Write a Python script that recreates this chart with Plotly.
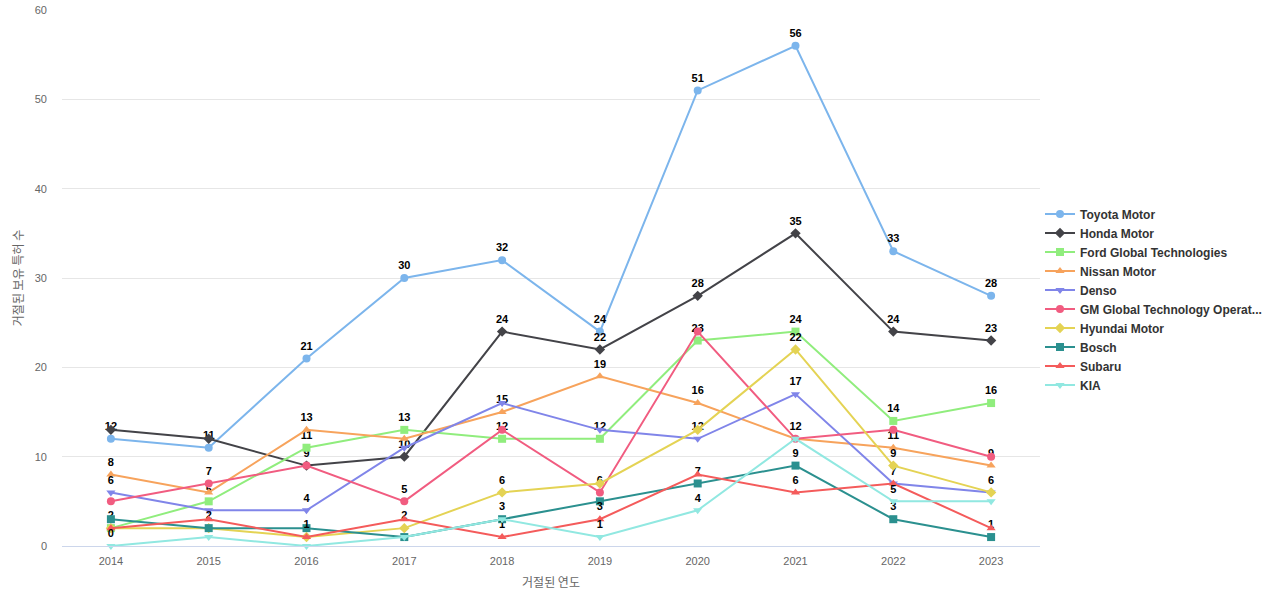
import plotly.graph_objects as go

years = ["2014", "2015", "2016", "2017", "2018", "2019", "2020", "2021", "2022", "2023"]

toyota = [12, 11, 21, 30, 32, 24, 51, 56, 33, 28]
honda = [13, 12, 9, 10, 24, 22, 28, 35, 24, 23]
ford = [2, 5, 11, 13, 12, 12, 23, 24, 14, 16]
nissan = [8, 6, 13, 12, 15, 19, 16, 12, 11, 9]
denso = [6, 4, 4, 11, 16, 13, 12, 17, 7, 6]
gm = [5, 7, 9, 5, 13, 6, 24, 12, 13, 10]
hyundai = [2, 2, 1, 2, 6, 7, 13, 22, 9, 6]
bosch = [3, 2, 2, 1, 3, 5, 7, 9, 3, 1]
subaru = [2, 3, 1, 3, 1, 3, 8, 6, 7, 2]
kia = [0, 1, 0, 1, 3, 1, 4, 12, 5, 5]

# which data labels are visible in the reference (overlapping ones are hidden there)
toyota_lbl = [1, 1, 1, 1, 1, 1, 1, 1, 1, 1]
honda_lbl = [0, 0, 1, 1, 1, 1, 1, 1, 1, 1]
ford_lbl = [1, 1, 1, 1, 1, 1, 1, 1, 1, 1]
nissan_lbl = [1, 0, 1, 0, 1, 1, 1, 1, 1, 1]
denso_lbl = [1, 0, 1, 0, 0, 0, 1, 1, 1, 1]
gm_lbl = [0, 1, 0, 1, 0, 1, 0, 0, 0, 0]
hyundai_lbl = [0, 0, 0, 1, 1, 0, 0, 1, 1, 0]
bosch_lbl = [0, 1, 0, 0, 1, 0, 1, 1, 1, 1]
subaru_lbl = [0, 0, 1, 0, 1, 1, 0, 1, 0, 0]
kia_lbl = [1, 0, 0, 0, 0, 1, 1, 0, 1, 0]

series = [
    ("Toyota Motor", toyota, toyota_lbl, "#7cb5ec", "circle"),
    ("Honda Motor", honda, honda_lbl, "#434348", "diamond"),
    ("Ford Global Technologies", ford, ford_lbl, "#90ed7d", "square"),
    ("Nissan Motor", nissan, nissan_lbl, "#f7a35c", "triangle-up"),
    ("Denso", denso, denso_lbl, "#8085e9", "triangle-down"),
    ("GM Global Technology Operat...", gm, gm_lbl, "#f15c80", "circle"),
    ("Hyundai Motor", hyundai, hyundai_lbl, "#e4d354", "diamond"),
    ("Bosch", bosch, bosch_lbl, "#2b908f", "square"),
    ("Subaru", subaru, subaru_lbl, "#f45b5b", "triangle-up"),
    ("KIA", kia, kia_lbl, "#91e8e1", "triangle-down"),
]

fig = go.Figure()
for name, vals, lbl, color, sym in series:
    fig.add_trace(go.Scatter(
        x=years, y=vals, name=name, mode="lines+markers+text",
        line=dict(color=color, width=2),
        marker=dict(color=color, symbol=sym, size=8),
        text=[str(v) if s else "" for v, s in zip(vals, lbl)],
        textposition="top center",
        textfont=dict(family="Liberation Sans, Arial", size=11, color="#000000", weight="bold"),
        cliponaxis=False,
    ))

fig.update_layout(
    width=1280, height=600,
    margin=dict(l=62, r=240, t=10, b=54, autoexpand=False),
    paper_bgcolor="white", plot_bgcolor="white",
    font=dict(family="Liberation Sans, Arial", size=11, color="#666666"),
    showlegend=True,
    legend=dict(x=1.0, y=0.46, xanchor="left", yanchor="middle",
                font=dict(size=12, color="#333333", family="Liberation Sans, Arial", weight="bold"),
                itemwidth=30, tracegroupgap=0),
    xaxis=dict(type="category", range=[-0.5, 9.5], showgrid=False, automargin=False,
               showline=True, linecolor="#ccd6eb", ticks="", ticklabelstandoff=5,
               title=dict(text="거절된 연도", standoff=12,
                          font=dict(size=12, color="#666666", family="Noto Sans CJK KR")),
               tickfont=dict(size=11, color="#666666")),
    yaxis=dict(range=[0, 60], dtick=10, showgrid=True, gridcolor="#e6e6e6", automargin=False,
               zeroline=False, showline=False, ticklabelstandoff=14,
               title=dict(text="거절된 보유 특허 수", standoff=8,
                          font=dict(size=12, color="#666666", family="Noto Sans CJK KR")),
               tickfont=dict(size=11, color="#666666")),
)

fig.write_html("out.html", config={"displayModeBar": False},
               post_script="document.body.style.margin='0';")
